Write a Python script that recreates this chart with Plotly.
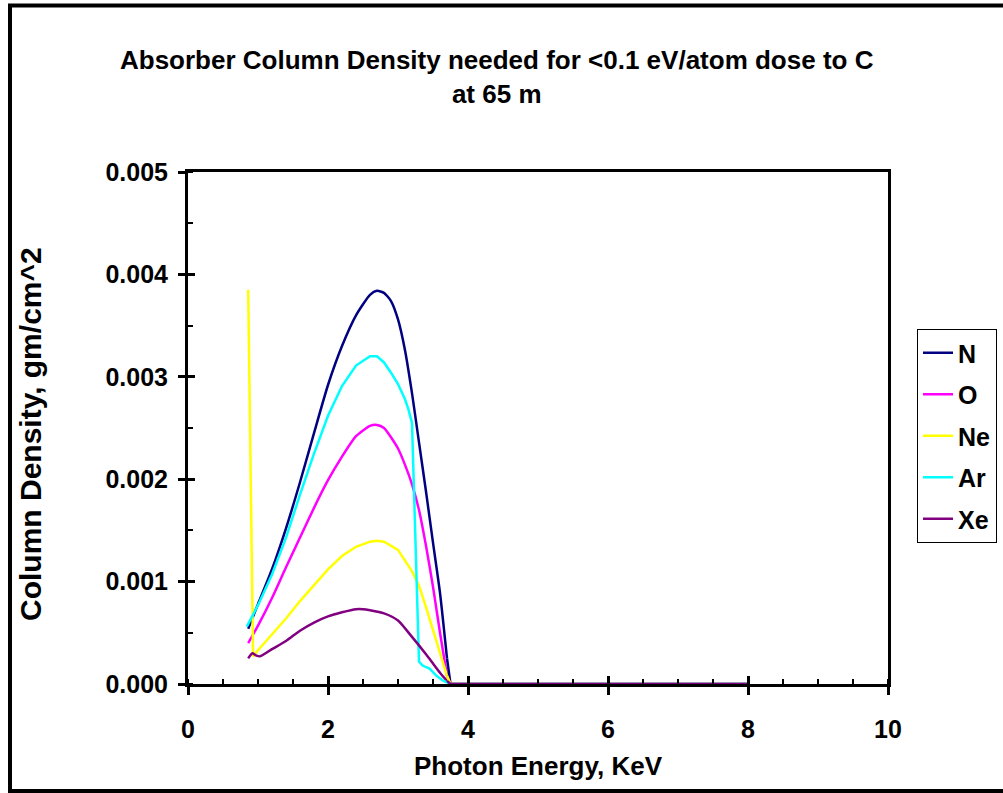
import plotly.graph_objects as go

# ---- data ----
tail_x = [3.75, 4.0, 4.5, 5.0, 5.5, 6.0, 6.5, 7.0, 7.5, 8.0]
tail_y = [0.0] * len(tail_x)

n_x = [0.86, 1.0, 1.2, 1.4, 1.6, 1.8, 2.0, 2.2, 2.4, 2.6, 2.7, 2.8, 2.9, 3.0, 3.1, 3.2, 3.3, 3.4, 3.5, 3.6, 3.7]
n_y = [0.00054, 0.00078, 0.00112, 0.00152, 0.00197, 0.00245, 0.00292, 0.00330, 0.00360, 0.00380,
       0.00384, 0.00382, 0.00374, 0.00356, 0.00326, 0.00284, 0.00236, 0.00188, 0.00138, 0.00089, 0.00025]

o_x = [0.86, 1.0, 1.2, 1.4, 1.6, 1.8, 2.0, 2.2, 2.4, 2.6, 2.7, 2.8, 3.0, 3.1, 3.2, 3.3, 3.4, 3.5, 3.6, 3.7]
o_y = [0.00040, 0.00057, 0.00084, 0.00114, 0.00143, 0.00172, 0.00199, 0.00222, 0.00242, 0.00252,
       0.00253, 0.00250, 0.00230, 0.00214, 0.00195, 0.00170, 0.00135, 0.00095, 0.00050, 0.00008]

ne_x = [0.86, 0.93, 1.0, 1.2, 1.4, 1.6, 1.8, 2.0, 2.2, 2.4, 2.6, 2.7, 2.8, 3.0, 3.2, 3.3, 3.4, 3.5, 3.6, 3.7]
ne_y = [0.00385, 0.00027, 0.00033, 0.00048, 0.00064, 0.00081, 0.00097, 0.00112, 0.00125, 0.00134,
        0.00139, 0.00140, 0.00139, 0.00131, 0.00110, 0.00096, 0.00075, 0.00053, 0.00032, 0.00008]

ar_x = [0.84, 1.0, 1.2, 1.4, 1.6, 1.8, 2.0, 2.2, 2.4, 2.6, 2.7, 2.8, 2.9, 3.0, 3.1, 3.15, 3.2, 3.3, 3.35, 3.45, 3.55, 3.65]
ar_y = [0.00056, 0.00077, 0.00107, 0.00143, 0.00185, 0.00225, 0.00262, 0.00291, 0.00311, 0.00320,
        0.00320, 0.00314, 0.00304, 0.00293, 0.00278, 0.00268, 0.00255, 0.00022, 0.00018, 0.00015, 0.00008, 0.00003]

xe_x = [0.86, 0.92, 0.97, 1.03, 1.2, 1.4, 1.6, 1.8, 2.0, 2.2, 2.4, 2.5, 2.6, 2.8, 3.0, 3.2, 3.4, 3.5, 3.6, 3.7]
xe_y = [0.00025, 0.00030, 0.00028, 0.00027, 0.00034, 0.00042, 0.00052, 0.00060, 0.00066, 0.00070,
        0.00073, 0.00073, 0.00072, 0.00069, 0.00062, 0.00046, 0.00029, 0.00020, 0.00011, 0.00003]

series = [
    ("N", n_x, n_y, "#000080", "spline"),
    ("O", o_x, o_y, "#FF00FF", "spline"),
    ("Ne", ne_x, ne_y, "#FFFF00", "linear"),
    ("Ar", ar_x, ar_y, "#00FFFF", "linear"),
    ("Xe", xe_x, xe_y, "#800080", "spline"),
]

title_text = "Absorber Column Density needed for &lt;0.1 eV/atom dose to C<br>at 65 m"
x_title = "Photon Energy, KeV"
y_title = "Column Density, gm/cm^2"

FONT = "Liberation Sans, Arial, sans-serif"

fig = go.Figure()
for name, xs, ys, color, shape in series:
    fig.add_trace(go.Scatter(
        x=xs, y=ys, mode="lines", name=name, legendgroup=name,
        line=dict(color=color, width=2.5, shape=shape, smoothing=0.6),
    ))
for name, xs, ys, color, shape in series:
    fig.add_trace(go.Scatter(
        x=[xs[-1]] + tail_x, y=[ys[-1]] + tail_y, mode="lines", name=name, legendgroup=name,
        showlegend=False, line=dict(color=color, width=2.5),
    ))

# invisible trace to anchor overlay axes (for crossing major ticks)
fig.add_trace(go.Scatter(x=[0], y=[0], xaxis="x2", yaxis="y2", mode="markers",
                         marker=dict(opacity=0), showlegend=False, hoverinfo="skip"))

L, R, T, B = 188, 888, 172, 684
W, H = 1003, 793

tick_font = dict(family=FONT, size=25, color="black", weight="bold")

fig.update_layout(
    width=W, height=H, autosize=False,
    margin=dict(l=L, r=W - R, t=T, b=H - B, pad=0, autoexpand=False),
    paper_bgcolor="white", plot_bgcolor="white",
    showlegend=True,
    font=dict(family=FONT, color="black"),
    xaxis=dict(range=[0, 10], dtick=2, tick0=0, showgrid=False, zeroline=False,
               showline=True, linecolor="black", linewidth=3, mirror=True,
               ticks="outside", ticklen=8, tickwidth=3, tickcolor="black",
               minor=dict(dtick=0.5, ticks="inside", ticklen=5, tickwidth=2, tickcolor="black"),
               tickfont=tick_font, ticklabelstandoff=13, fixedrange=True, automargin=False),
    yaxis=dict(range=[0, 0.005], dtick=0.001, tick0=0, tickformat=".3f", showgrid=False, zeroline=False,
               showline=True, linecolor="black", linewidth=3, mirror=True,
               ticks="outside", ticklen=7, tickwidth=3, tickcolor="black",
               minor=dict(dtick=0.0005, ticks="inside", ticklen=5, tickwidth=2, tickcolor="black"),
               tickfont=tick_font, ticklabelstandoff=5, fixedrange=True, automargin=False),
    xaxis2=dict(overlaying="x", range=[0, 10], dtick=2, tick0=0, showgrid=False, zeroline=False,
                showline=False, ticks="inside", ticklen=8, tickwidth=3, tickcolor="black",
                showticklabels=False, anchor="y2", side="bottom", fixedrange=True),
    yaxis2=dict(overlaying="y", range=[0, 0.005], dtick=0.001, tick0=0, showgrid=False, zeroline=False,
                showline=False, ticks="inside", ticklen=7, tickwidth=3, tickcolor="black",
                showticklabels=False, anchor="x2", side="left", fixedrange=True),
    legend=dict(x=(917 - L) / (R - L), y=(B - 329) / (B - T), xanchor="left", yanchor="top",
                bordercolor="black", borderwidth=1, bgcolor="white",
                font=dict(family=FONT, size=25, color="black", weight="bold"),
                itemwidth=30, tracegroupgap=6, traceorder="grouped"),
)

# title and axis titles as annotations
fig.add_annotation(text=title_text, xref="paper", yref="paper",
                   x=(497 - L) / (R - L), y=(B - 77) / (B - T), xanchor="center", yanchor="middle",
                   showarrow=False, font=dict(family=FONT, size=26, color="black", weight="bold"),
                   align="center")
fig.add_annotation(text=x_title, xref="paper", yref="paper",
                   x=(538 - L) / (R - L), y=(B - 766) / (B - T), xanchor="center", yanchor="middle",
                   showarrow=False, font=dict(family=FONT, size=26, color="black", weight="bold"))
fig.add_annotation(text=y_title, xref="paper", yref="paper", textangle=-90,
                   x=(30 - L) / (R - L), y=(B - 434) / (B - T), xanchor="center", yanchor="middle",
                   showarrow=False, font=dict(family=FONT, size=30, color="black", weight="bold"))

# outer frame around the whole chart
fig.add_shape(type="rect", xref="paper", yref="paper",
              x0=(10 - L) / (R - L), x1=(1012 - L) / (R - L),
              y0=(B - 791) / (B - T), y1=(B - 5.5) / (B - T),
              line=dict(color="black", width=4), fillcolor="rgba(0,0,0,0)", layer="below")

fig.write_html("out.html", config={"displayModeBar": False, "responsive": False},
               post_script="document.body.style.margin='0';document.body.style.overflow='hidden';")
